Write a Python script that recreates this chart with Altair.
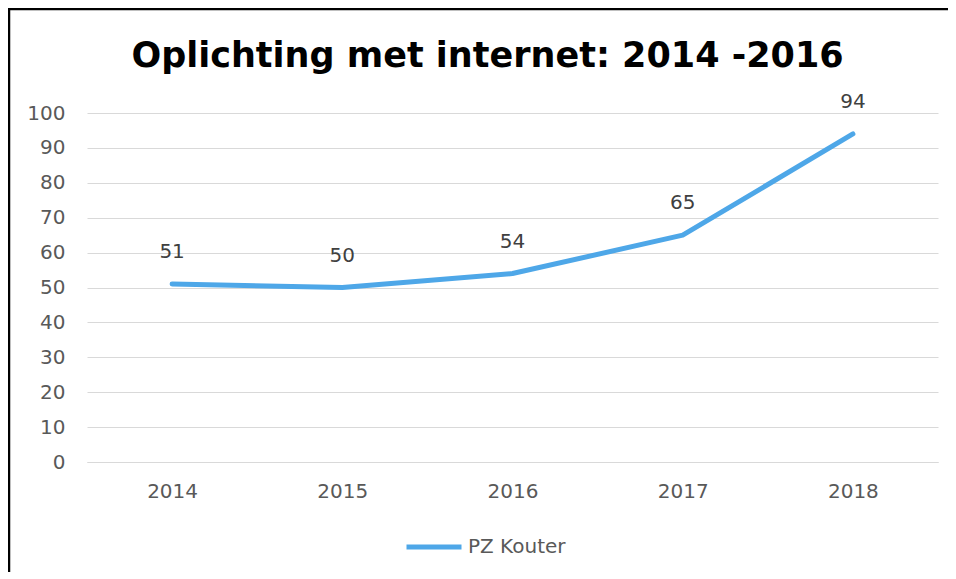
import altair as alt
import pandas as pd

years = ["2014", "2015", "2016", "2017", "2018"]
values = [51, 50, 54, 65, 94]
series = ["PZ Kouter"] * 5
y_ticks = [0, 10, 20, 30, 40, 50, 60, 70, 80, 90, 100]

title_text = "Oplichting met internet: 2014 -2016"
line_color = "#4EA7E8"
font = "DejaVu Sans"

df = pd.DataFrame({"jaar": years, "aantal": values, "reeks": series})

x_enc = alt.X("jaar:O", title=None, scale=alt.Scale(type="point", padding=0.5),
              axis=alt.Axis(labelAngle=0, labelFontSize=20, labelColor="#595959", labelFont=font,
                            ticks=False, domain=True, domainColor="#D9D9D9", labelPadding=19, grid=False))
y_enc = alt.Y("aantal:Q", title=None, scale=alt.Scale(domain=[0, 100], nice=False),
              axis=alt.Axis(values=y_ticks, labelFontSize=20, labelColor="#595959", labelFont=font,
                            labelOverlap=False, ticks=False, domain=False, grid=True,
                            gridColor="#D9D9D9", labelPadding=22))

line = alt.Chart(df).mark_line(strokeWidth=5, strokeCap="round", strokeJoin="round").encode(
    x=x_enc, y=y_enc,
    color=alt.Color("reeks:N", scale=alt.Scale(range=[line_color]),
                    legend=alt.Legend(title=None, orient="none", legendX=317, legendY=404,
                                      symbolType="stroke", symbolSize=3025, symbolStrokeWidth=5,
                                      labelFontSize=20, labelColor="#595959", labelFont=font,
                                      labelOffset=4)),
)

labels = alt.Chart(df).mark_text(dy=-32, fontSize=20, color="#404040", font=font).encode(
    x=x_enc, y=y_enc, text="aantal:Q"
)

frame = pd.DataFrame({"k": [0]})
top_border = alt.Chart(frame).mark_rule(color="black", strokeWidth=2.5).encode(
    x=alt.value(-79), x2=alt.value(1000), y=alt.value(-104)
)
left_border = alt.Chart(frame).mark_rule(color="black", strokeWidth=2.5).encode(
    x=alt.value(-78), y=alt.value(-105), y2=alt.value(600)
)

chart = alt.layer(line, labels, top_border, left_border).properties(
    width=851, height=349,
    padding={"left": 79, "top": 105, "right": 10, "bottom": 110},
    autosize=alt.AutoSizeParams(type="none"),
    title=alt.TitleParams(title_text, fontSize=35, font="DejaVu Sans", fontWeight="bold",
                          color="black", anchor="middle", dx=-25, offset=0, dy=67),
).configure_view(stroke=None)

chart.save("out.html", embed_options={"renderer": "svg", "actions": False})
